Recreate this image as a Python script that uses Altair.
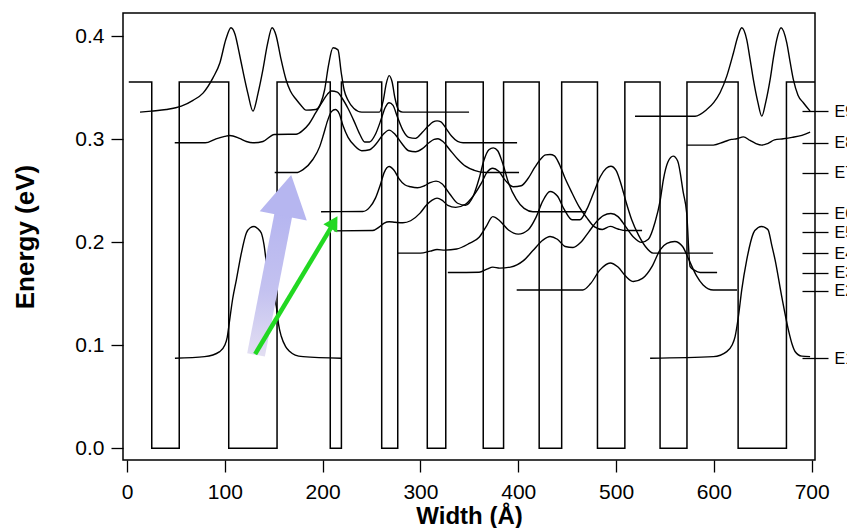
import altair as alt
import pandas as pd

# ---------------- axes ----------------
x_domain = [-4.1, 703.4]
y_domain = [-0.0114, 0.4228]
x_ticks = [0, 100, 200, 300, 400, 500, 600, 700]
y_ticks = [0.0, 0.1, 0.2, 0.3, 0.4]

# ---------------- conduction band profile ----------------
barrier_top = 0.3557
band_start = 1.8
band_end = 703.4
well_left = [25.3, 104.0, 207.8, 260.4, 307.0, 364.2, 421.4, 481.0, 545.0, 624.8]
well_right = [53.4, 153.4, 219.2, 276.8, 325.9, 385.0, 444.4, 509.0, 572.5, 674.2]

# ---------------- level markers on the right ----------------
level_values = [0.3275, 0.2967, 0.2675, 0.2285, 0.2100, 0.1896, 0.1707, 0.1532, 0.0873]
level_labels = ["E9", "E8", "E7", "E6", "E5", "E4", "E3", "E2", "E1"]

# ---------------- wavefunctions (x in Å, energy in eV) ----------------
wf_E9 = [(13.3, 0.3265), (24.8, 0.3275), (40.2, 0.329), (55.5, 0.3323), (67.5, 0.338), (77.7, 0.345),
         (88, 0.360), (95, 0.3745), (101, 0.397), (106.3, 0.4085), (110.5, 0.402), (114.5, 0.385),
         (118.6, 0.366), (123.5, 0.345), (128.8, 0.3275), (134, 0.345), (139, 0.368), (143.5, 0.392),
         (148.3, 0.4085), (152.4, 0.401), (157, 0.380), (162.6, 0.358), (167, 0.347), (172.8, 0.339),
         (178, 0.333), (183, 0.3285), (193, 0.329), (198, 0.335), (202, 0.348), (206, 0.372),
         (210.6, 0.389), (215.7, 0.387), (219, 0.365), (222, 0.348), (226, 0.338), (232, 0.330),
         (240, 0.3265), (258, 0.3265), (262, 0.338), (265, 0.354), (268, 0.362), (271, 0.356),
         (274, 0.340), (278, 0.328), (282, 0.3265), (349.7, 0.3265)]
wf_E8 = [(48.8, 0.2967), (80, 0.2967), (91, 0.3006), (100, 0.303), (105, 0.3038), (115, 0.301),
         (122, 0.298), (128.8, 0.2967), (139, 0.298), (150.6, 0.3048), (165, 0.305), (172.8, 0.305),
         (180, 0.309), (186, 0.315), (193, 0.326), (200, 0.337), (205, 0.344), (209, 0.347),
         (215, 0.346), (220, 0.340), (226, 0.330), (232, 0.318), (238, 0.305), (243, 0.2975),
         (248, 0.2975), (254, 0.305), (260, 0.320), (264, 0.331), (268, 0.3356), (272, 0.333),
         (276, 0.323), (282, 0.309), (288, 0.302), (295, 0.301), (302, 0.307), (308, 0.313),
         (313, 0.317), (317, 0.318), (321, 0.317), (326, 0.311), (332, 0.303), (338, 0.298),
         (343.6, 0.2967), (398.8, 0.2967)]
wf_E7 = [(151, 0.2678), (173, 0.2678), (180, 0.2707), (190, 0.2805), (197, 0.293), (201, 0.305),
         (205, 0.318), (209, 0.327), (213, 0.329), (217, 0.325), (221, 0.313), (226, 0.302),
         (233, 0.2935), (240, 0.289), (248, 0.290), (255, 0.296), (262, 0.305), (268, 0.309),
         (274, 0.305), (281, 0.296), (288, 0.289), (295, 0.288), (302, 0.291), (309, 0.297),
         (314, 0.300), (318, 0.3006), (323, 0.298), (330, 0.290), (338, 0.281), (346, 0.274),
         (355, 0.270), (367.8, 0.2678), (400.8, 0.2678)]
wf_E6 = [(198.4, 0.2298), (241, 0.2300), (248, 0.234), (254, 0.243), (259, 0.256), (263, 0.268),
         (268, 0.2737), (273, 0.270), (278, 0.262), (284, 0.256), (290, 0.254), (297, 0.253),
         (304, 0.255), (310, 0.258), (316, 0.2595), (322, 0.257), (330, 0.247), (338, 0.238),
         (346, 0.236), (354, 0.245), (360, 0.262), (365, 0.280), (370, 0.290), (374.5, 0.2918),
         (379, 0.289), (384, 0.277), (390, 0.258), (398, 0.242), (406, 0.233), (415, 0.2298),
         (469.3, 0.2298)]
wf_E5 = [(212, 0.2112), (251, 0.2115), (258, 0.215), (263, 0.2187), (268, 0.220), (274, 0.2195),
         (282, 0.219), (290, 0.221), (299.6, 0.2284), (306, 0.236), (312, 0.241), (317, 0.243),
         (322, 0.241), (328, 0.236), (336, 0.234), (346, 0.237), (354, 0.245), (362, 0.257),
         (368, 0.268), (374, 0.272), (380, 0.269), (387, 0.260), (395, 0.254), (403, 0.255),
         (410, 0.262), (417, 0.273), (423, 0.281), (428, 0.285), (432.5, 0.2853), (437, 0.284),
         (442, 0.276), (448, 0.262), (455, 0.248), (462, 0.235), (470, 0.224), (478, 0.215),
         (486, 0.2125), (494, 0.2155), (502, 0.213), (510, 0.2115), (526.6, 0.2115)]
wf_E4 = [(277, 0.1896), (300, 0.1896), (310, 0.1915), (317, 0.193), (325, 0.1925), (337, 0.1935),
         (350, 0.199), (360, 0.205), (367, 0.215), (374, 0.225), (381, 0.221), (390, 0.212),
         (400, 0.208), (410, 0.212), (418, 0.224), (425, 0.240), (432.5, 0.2494), (440, 0.245),
         (447, 0.232), (455, 0.222), (463, 0.222), (470, 0.232), (477, 0.248), (484, 0.264),
         (490, 0.272), (494.7, 0.274), (500, 0.270), (505, 0.257), (510, 0.240), (516, 0.222),
         (523, 0.207), (530, 0.196), (538, 0.1896), (599.2, 0.1896)]
wf_E3 = [(328, 0.1707), (360, 0.171), (368, 0.174), (374, 0.176), (381, 0.175), (392, 0.176),
         (405, 0.182), (415, 0.192), (425, 0.202), (432.5, 0.2057), (440, 0.203), (448, 0.196),
         (456, 0.195), (464, 0.200), (472, 0.210), (480, 0.220), (487, 0.226), (494.7, 0.228),
         (502, 0.225), (510, 0.215), (518, 0.205), (526, 0.200), (533, 0.203), (540, 0.220),
         (545, 0.240), (548.4, 0.261), (553, 0.278), (558.4, 0.2838), (563, 0.279), (568.8, 0.248),
         (572.2, 0.2287), (575.7, 0.1765), (580, 0.173), (586, 0.1707), (603.3, 0.1707)]
wf_E2 = [(398.4, 0.1538), (466, 0.1538), (474, 0.160), (483.6, 0.1733), (494, 0.180), (502, 0.176),
         (510, 0.167), (517.7, 0.162), (527, 0.165), (537, 0.177), (545, 0.1927), (552, 0.199),
         (560, 0.2008), (568, 0.196), (575, 0.182), (582, 0.168), (589, 0.1587), (599.5, 0.1538),
         (623.7, 0.1538)]
wf_E1_left = [(49, 0.0875), (79.4, 0.089), (94.8, 0.0939), (99.9, 0.100), (102.5, 0.108), (105, 0.125),
              (108, 0.145), (111.8, 0.1636), (116.9, 0.1895), (122, 0.209), (126, 0.2142),
              (129.9, 0.2154), (133.5, 0.2135), (137.3, 0.209), (140, 0.198), (142.4, 0.1813),
              (147, 0.160), (152.7, 0.1376), (155, 0.120), (157.8, 0.1085), (162, 0.099),
              (166.4, 0.0939), (172, 0.0905), (180, 0.089), (219.1, 0.0875)]
wf_E1_right = [(534.8, 0.0875), (599.5, 0.089), (613.2, 0.0939), (618.5, 0.100), (621.7, 0.1085),
               (625.1, 0.128), (628.5, 0.1538), (633.6, 0.183), (640.4, 0.209), (645, 0.2142),
               (649, 0.2154), (653, 0.214), (655.6, 0.212), (659, 0.198), (662.6, 0.183),
               (669.4, 0.1473), (676.2, 0.115), (680, 0.101), (683, 0.094), (689.9, 0.0895),
               (698.4, 0.089)]
wf_E9_right = [(519.4, 0.3225), (580.8, 0.3225), (592.7, 0.329), (600, 0.336), (606.3, 0.3453),
               (613.2, 0.3615), (620, 0.384), (624.5, 0.400), (628.5, 0.4085), (633.6, 0.397),
               (637, 0.378), (640.4, 0.358), (645, 0.336), (649, 0.3226), (653, 0.336),
               (657.5, 0.358), (661, 0.380), (664.3, 0.397), (668.7, 0.4085), (674.5, 0.394),
               (678, 0.375), (681.3, 0.358), (686, 0.343), (691.5, 0.3356), (698.4, 0.3275)]
wf_E8_right = [(572.3, 0.2945), (599.5, 0.2945), (610, 0.2975), (618, 0.300), (623.4, 0.3006),
               (630.2, 0.3025), (637, 0.299), (643, 0.296), (649, 0.2945), (655, 0.296),
               (662, 0.2995), (671, 0.3006), (680, 0.302), (690, 0.304), (698.4, 0.307)]

# ---------------- arrows (x in Å, energy in eV) ----------------
blue_arrow_x = [131.9, 159.8]
blue_arrow_e = [0.0907, 0.2265]
blue_head = (163.8, 0.2456)
green_arrow_x = [131.0, 209.0]
green_arrow_e = [0.0915, 0.2150]
green_head = (211.5, 0.2195)

# ---------------- tables ----------------
bx, be = [band_start], [barrier_top]
for l, r in zip(well_left, well_right):
    bx += [l, l, r, r]
    be += [barrier_top, 0.0, 0.0, barrier_top]
bx.append(band_end)
be.append(barrier_top)
band = pd.DataFrame({"x": bx, "e": be, "o": list(range(len(bx)))})

states = {
    "E9": wf_E9, "E8": wf_E8, "E7": wf_E7, "E6": wf_E6, "E5": wf_E5, "E4": wf_E4,
    "E3": wf_E3, "E2": wf_E2, "E1a": wf_E1_left, "E1b": wf_E1_right,
    "E9b": wf_E9_right, "E8b": wf_E8_right,
}
rows = []
for name, pts in states.items():
    for i, (x, e) in enumerate(pts):
        rows.append({"state": name, "x": x, "e": e, "o": i})
waves = pd.DataFrame(rows)

blue_df = pd.DataFrame({"x": blue_arrow_x, "e": blue_arrow_e, "o": [0, 1]})
blue_head_df = pd.DataFrame({"x": [blue_head[0]], "e": [blue_head[1]]})
green_df = pd.DataFrame({"x": green_arrow_x, "e": green_arrow_e, "o": [0, 1]})
green_head_df = pd.DataFrame({"x": [green_head[0]], "e": [green_head[1]]})

# ---------------- scales / axes ----------------
FONT = "Liberation Sans"
xs = alt.Scale(domain=x_domain, nice=False, zero=False)
ys = alt.Scale(domain=y_domain, nice=False, zero=False)

x_axis = alt.Axis(values=x_ticks, format="d", tickSize=12, tickWidth=1.3, labelFontSize=21,
                  labelPadding=9, title="Width (Å)", titleFontSize=24, titleFontWeight="bold",
                  titlePadding=2, domain=False, grid=False)
left_axis = alt.Axis(values=y_ticks, format=".1f", tickSize=12, tickWidth=1.3, labelFontSize=21,
                     labelPadding=7, title="Energy (eV)", titleFontSize=26, titleFontWeight="bold",
                     titlePadding=36, domain=False, grid=False)
label_expr = " : ".join(f"datum.value == {v} ? '{l}'" for v, l in zip(level_values, level_labels)) + " : ''"
right_axis = alt.Axis(orient="right", values=level_values, labelExpr=label_expr, tickSize=26,
                      tickWidth=1.3, offset=-13, labelFontSize=16, labelPadding=6,
                      labelOverlap=False, labelFlush=False, title=None, domain=False, grid=False)

X = alt.X("x:Q", scale=xs, axis=x_axis)

band_layer = alt.Chart(band).mark_line(color="black", strokeWidth=1.5).encode(
    x=X, y=alt.Y("e:Q", scale=ys, axis=right_axis), order="o:Q")

wave_layer = alt.Chart(waves).mark_line(color="black", strokeWidth=1.4, interpolate="monotone").encode(
    x=X, y=alt.Y("e:Q", scale=ys, axis=left_axis), detail="state:N", order="o:Q")

BLUE = "#b6b6f0"
blue_grad = alt.LinearGradient(
    gradient="linear",
    stops=[alt.GradientStop(color=BLUE, offset=0),
           alt.GradientStop(color="#c4c2f0", offset=0.55),
           alt.GradientStop(color="#e2def2", offset=1)],
    x1=0, x2=0, y1=0, y2=1,
)
blue_shaft = alt.Chart(blue_df).mark_line(stroke=blue_grad, strokeWidth=18, strokeCap="butt").encode(
    x=X, y=alt.Y("e:Q", scale=ys, axis=None), order="o:Q")
blue_tip = alt.Chart(blue_head_df).mark_point(shape="triangle-up", filled=True, size=2300, angle=11,
                                               color=BLUE, opacity=1).encode(
    x=X, y=alt.Y("e:Q", scale=ys, axis=None))

GREEN = "#22d822"
green_shaft = alt.Chart(green_df).mark_line(color=GREEN, strokeWidth=4.5, strokeCap="butt").encode(
    x=X, y=alt.Y("e:Q", scale=ys, axis=None), order="o:Q")
green_tip = alt.Chart(green_head_df).mark_point(shape="triangle-up", filled=True, size=260, angle=31,
                                                 color=GREEN, opacity=1).encode(
    x=X, y=alt.Y("e:Q", scale=ys, axis=None))

chart = alt.layer(band_layer, wave_layer, blue_shaft, blue_tip, green_shaft, green_tip).resolve_axis(
    y="independent"
).properties(
    width=692, height=447,
    autosize=alt.AutoSizeParams(type="none"),
    padding={"left": 123, "top": 13, "right": 32, "bottom": 68},
    background="white",
).configure_view(stroke="black", strokeWidth=1.5).configure_axis(
    labelFont=FONT, titleFont=FONT, labelColor="black", titleColor="black", tickColor="black"
)

chart.save("out.html", embed_options={"renderer": "svg", "actions": False})
